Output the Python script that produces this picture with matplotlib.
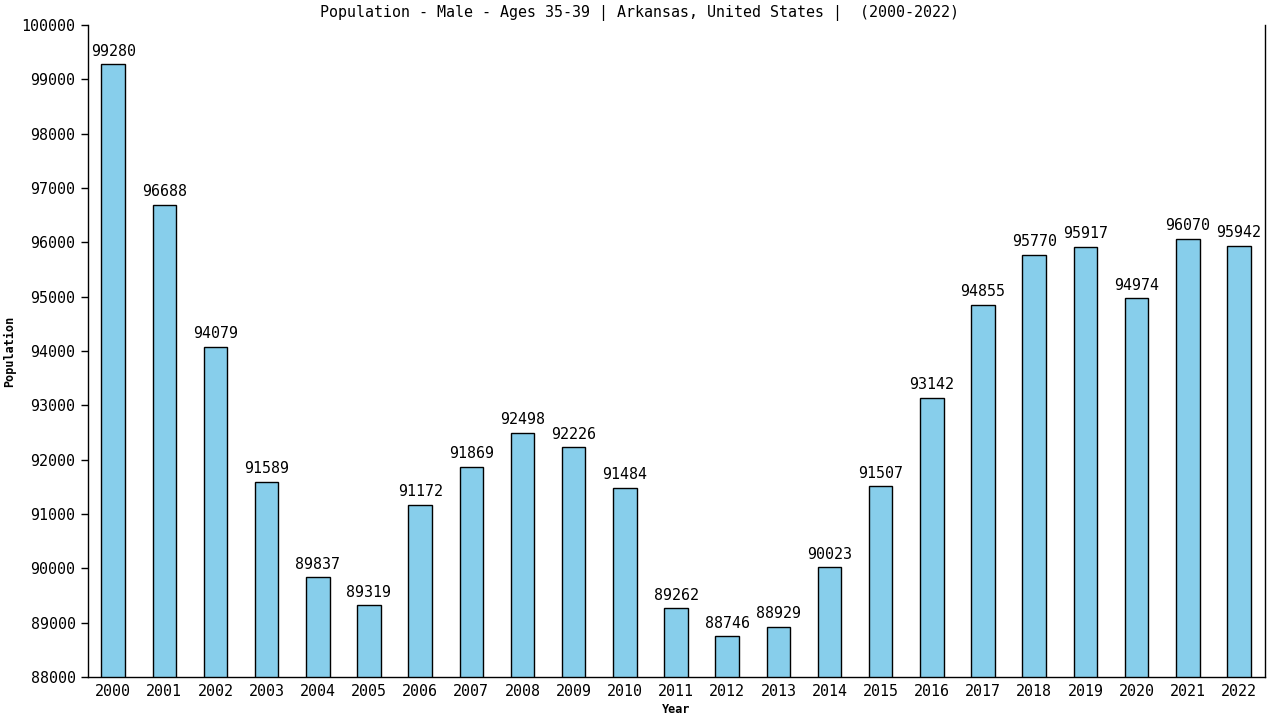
import numpy as np
import matplotlib.pyplot as plt

# data
years = list(range(2000, 2023))
population = [99280, 96688, 94079, 91589, 89837, 89319, 91172, 91869, 92498, 92226,
              91484, 89262, 88746, 88929, 90023, 91507, 93142, 94855, 95770, 95917,
              94974, 96070, 95942]
y_ticks = list(range(88000, 100001, 1000))

plt.rcParams['font.family'] = ['DejaVu Sans Mono']
fs = 10.8

fig = plt.figure(figsize=(12.8, 7.2), dpi=100)
ax = fig.add_axes([0.0688, 0.0597, 0.9195, 0.9055])

x = np.arange(len(years))
bars = ax.bar(x, population, width=0.46, color='#87CEEB', edgecolor='black', linewidth=1.0)

# value labels on top of the bars
for xi, val in zip(x, population):
    ax.annotate(str(val), (xi, val), xytext=(0, 4), textcoords='offset points',
                ha='center', va='bottom', fontsize=fs)

ax.set_xlim(-0.49, 22.51)
ax.set_ylim(88000, 100000)
ax.set_yticks(y_ticks)
ax.set_yticklabels([str(t) for t in y_ticks], fontsize=fs)
ax.set_xticks(x)
ax.set_xticklabels([str(y) for y in years], fontsize=fs)
ax.tick_params(axis='x', length=0, pad=5)
ax.tick_params(axis='y', length=5, width=1, pad=4)

ax.spines['top'].set_visible(False)
for s in ['left', 'bottom', 'right']:
    ax.spines[s].set_linewidth(1.0)

ax.set_xlabel('Year', fontsize=8.5, fontweight='bold', labelpad=3)
ax.set_ylabel('Population', fontsize=8.5, fontweight='bold', labelpad=4)

fig.text(0.5, 1 - 13 / 720, 'Population - Male - Ages 35-39 | Arkansas, United States |  (2000-2022)',
         ha='center', va='center', fontsize=fs)

fig.savefig('out.png', dpi=100)
